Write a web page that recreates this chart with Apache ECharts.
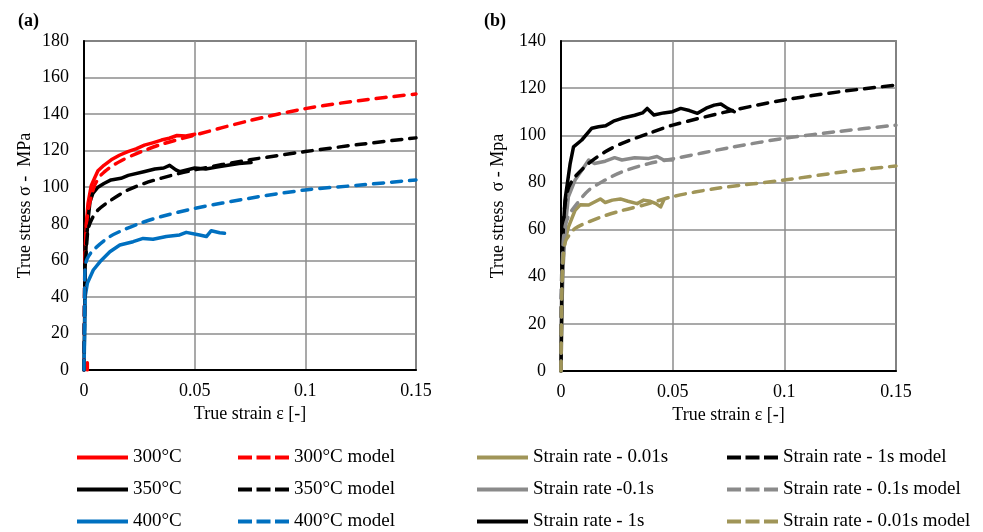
<!DOCTYPE html>
<html>
<head>
<meta charset="utf-8">
<script src="https://cdn.jsdelivr.net/npm/echarts@6/dist/echarts.min.js"></script>
<style>
  html, body { margin: 0; padding: 0; background: #ffffff; }
  #chart { width: 983px; height: 532px; }
</style>
</head>
<body>
<div id="chart"></div>
<script>
// ---- Panel (a): temperature series, [true strain, true stress MPa] ----
const a300Exp = [[0.0015,0],[0.0015,4],'-',[0.0006,62],[0.0008,72],[0.0012,82],[0.0018,91],[0.0033,101],[0.0048,105],[0.0063,109],[0.009,112],[0.0123,115],[0.016,117.5],[0.0198,119.5],[0.0235,121],[0.0273,123],[0.031,124.3],[0.035,125.8],[0.0385,126.8],[0.042,128.3],[0.046,128],[0.05,129]];
const a350Exp = [[0,0],[0.0003,30],[0.0005,56],[0.001,70],[0.002,84],[0.0027,92],[0.004,96.6],[0.0063,100],[0.009,102],[0.0122,104],[0.0167,104.9],[0.02,106.5],[0.027,108.5],[0.032,110],[0.036,110.5],[0.0387,112],[0.0415,109.5],[0.0432,108.5],[0.05,110.5],[0.055,110],[0.06,111],[0.065,112],[0.07,113],[0.0755,113.5]];
const a400Exp = [[0,0],[0.0003,20],[0.0005,40],[0.0015,47.4],[0.0042,54.7],[0.0072,59.2],[0.0117,64.7],[0.0162,68.4],[0.0222,70.2],[0.0267,72],[0.0312,71.5],[0.0372,73],[0.0432,73.9],[0.0462,75.3],[0.0522,73.9],[0.0553,73],[0.0575,76.2],[0.0613,75.1],[0.0635,74.8]];
const a300Model = [[0,0],[0.0003,50],[0.001,78],[0.002,88],[0.0033,95],[0.0048,101],[0.0072,106],[0.0093,108.5],[0.0125,111.5],[0.0168,114.5],[0.022,117.5],[0.027,120],[0.035,123.5],[0.05,128.5],[0.075,136.5],[0.1,143],[0.125,147.5],[0.15,151]];
const a350Model = [[0,0],[0.0002,30],[0.0005,55],[0.001,65],[0.0018,76.6],[0.0033,82],[0.0063,87.5],[0.0123,93],[0.0198,98.5],[0.027,102],[0.035,105],[0.05,109.5],[0.075,115],[0.1,119.5],[0.125,123.5],[0.15,127]];
const a400Model = [[0,0],[0.0002,30],[0.0005,56],[0.0015,61],[0.0042,65.6],[0.0117,73],[0.0185,77],[0.0252,80.2],[0.035,84],[0.05,88.4],[0.075,94],[0.1,98.5],[0.125,101.2],[0.15,104]];

// ---- Panel (b): strain-rate series ----
const b001Exp = [[0,0],[0.0003,20],[0.0005,35],[0.0007,44],[0.001,51],[0.002,56],[0.0033,61],[0.0063,68.2],[0.0086,70.5],[0.0124,70.4],[0.0176,73],[0.0198,71.5],[0.023,72.5],[0.0266,73],[0.03,72],[0.0341,71],[0.037,72.5],[0.04,72],[0.0425,71],[0.0446,69.6],[0.046,72.5]];
const b01Exp = [[0,0],[0.0005,30],[0.001,45],[0.002,62],[0.0033,73.9],[0.0063,81],[0.0093,85.2],[0.0124,89.5],[0.015,88],[0.0198,89],[0.024,90.5],[0.0273,89.5],[0.033,90.5],[0.0393,90.2],[0.043,91],[0.046,89.5],[0.05,89.5]];
const b1Exp = [[0,0],[0.0003,32],[0.0005,40],[0.001,60],[0.0018,72.5],[0.0041,88],[0.0056,95.1],[0.0093,98],[0.0138,103],[0.0168,103.6],[0.02,104],[0.0235,106],[0.0273,107.2],[0.033,108.5],[0.0365,109.5],[0.0386,111.4],[0.0416,108.6],[0.046,109.5],[0.0499,110],[0.0536,111.4],[0.0575,110.5],[0.0611,109.3],[0.065,111.5],[0.0686,112.8],[0.0716,113.3],[0.0746,111.4],[0.0776,110]];
const b1Model = [[0,0],[0.0003,40],[0.001,62],[0.002,72],[0.0035,78],[0.0063,82.4],[0.0123,88],[0.0198,93],[0.0273,96.6],[0.0393,100.8],[0.05,104.3],[0.0775,110.7],[0.1,115],[0.125,118.5],[0.15,121.3]];
const b01Model = [[0,0],[0.0003,35],[0.001,55],[0.002,62],[0.0035,66],[0.0063,70],[0.0124,76.7],[0.0198,81],[0.0273,84.5],[0.0393,88],[0.05,90],[0.0775,95.1],[0.1,98.7],[0.125,101.7],[0.15,104.3]];
const b001Model = [[0,0],[0.0003,30],[0.001,48],[0.002,55],[0.004,58],[0.0063,60.5],[0.0124,63.3],[0.02,66],[0.027,68],[0.0386,70.8],[0.05,74],[0.07,77.5],[0.1,81],[0.125,84.3],[0.15,87]];

// ---- Axis ticks ----
const strainTicks = { min: 0, max: 0.15, interval: 0.05 };
const stressTicksA = { min: 0, max: 180, interval: 20 };
const stressTicksB = { min: 0, max: 140, interval: 20 };

const RED = '#ff0000', BLACK = '#000000', BLUE = '#0070c0', GRAY = '#8a8a8a', OLIVE = '#a09558';
const FONT = '"Liberation Serif", "Times New Roman", serif';
const LW = 3.5;

// legend swatches: a solid bar, or three dashes
const SOLID_ICON = 'path://M0,0h51v4h-51z';
const DASH_ICON = 'path://M0,0h14v4h-14zM18.5,0h14v4h-14zM37,0h14v4h-14z';

function curve(name, data, color, dashed, gridIdx, smooth) {
  return {
    name: name,
    type: 'line',
    xAxisIndex: gridIdx,
    yAxisIndex: gridIdx,
    data: data,
    showSymbol: false,
    symbol: 'none',
    connectNulls: false,
    smooth: smooth ? 0.3 : false,
    animation: false,
    lineStyle: {
      color: color,
      width: LW,
      type: dashed ? [10, 8] : 'solid',
      cap: 'round',
      join: 'round'
    },
    itemStyle: { color: color },
    emphasis: { disabled: true }
  };
}

function xAxis(gridIdx) {
  return {
    type: 'value', gridIndex: gridIdx,
    min: strainTicks.min, max: strainTicks.max, interval: strainTicks.interval,
    name: 'True strain ε [-]', nameLocation: 'middle', nameGap: 34,
    nameTextStyle: { fontFamily: FONT, fontSize: 18, color: '#000' },
    axisLine: { show: true, onZero: false, lineStyle: { color: '#000', width: 2 } },
    axisTick: { show: false },
    axisLabel: { fontFamily: FONT, fontSize: 18, color: '#000', margin: 12 },
    splitLine: { show: true, lineStyle: { color: '#8c8c8c', width: 1.5 } }
  };
}

function yAxis(gridIdx, ticks, title, gap) {
  return {
    type: 'value', gridIndex: gridIdx,
    min: ticks.min, max: ticks.max, interval: ticks.interval,
    name: title, nameLocation: 'middle', nameGap: gap, nameRotate: 90,
    nameTextStyle: { fontFamily: FONT, fontSize: 18, color: '#000' },
    axisLine: { show: true, onZero: false, lineStyle: { color: '#000', width: 2 } },
    axisTick: { show: false },
    axisLabel: { fontFamily: FONT, fontSize: 18, color: '#000', margin: 15 },
    splitLine: { show: true, lineStyle: { color: '#8c8c8c', width: 1.5 } }
  };
}

function legendCol(names, colors, dashed, left) {
  return {
    data: names.map(function (n, i) {
      return { name: n, icon: dashed ? DASH_ICON : SOLID_ICON, itemStyle: { color: colors[i] } };
    }),
    orient: 'vertical',
    left: left,
    top: 448,
    height: 120,
    padding: 0,
    itemWidth: 51,
    itemHeight: 4,
    itemGap: 13,
    selectedMode: false,
    textStyle: { fontFamily: FONT, fontSize: 19, color: '#000', lineHeight: 19 }
  };
}

const chart = echarts.init(document.getElementById('chart'), null, { renderer: 'canvas' });
chart.setOption({
  backgroundColor: '#ffffff',
  animation: false,
  title: [
    { text: '(a)', left: 13, top: 7, textStyle: { fontFamily: FONT, fontSize: 18, fontWeight: 'bold', color: '#000' } },
    { text: '(b)', left: 479, top: 7, textStyle: { fontFamily: FONT, fontSize: 18, fontWeight: 'bold', color: '#000' } }
  ],
  grid: [
    { left: 84, top: 41, width: 332, height: 329, show: true, borderColor: '#333', borderWidth: 1.5, backgroundColor: 'transparent' },
    { left: 561, top: 41, width: 335, height: 330, show: true, borderColor: '#333', borderWidth: 1.5, backgroundColor: 'transparent' }
  ],
  xAxis: [xAxis(0), xAxis(1)],
  yAxis: [
    yAxis(0, stressTicksA, 'True stress σ -  MPa', 50),
    yAxis(1, stressTicksB, 'True stress  σ - Mpa', 54)
  ],
  legend: [
    legendCol(['300°C', '350°C', '400°C'], [RED, BLACK, BLUE], false, 77),
    legendCol(['300°C model', '350°C model', '400°C model'], [RED, BLACK, BLUE], true, 238),
    legendCol(['Strain rate - 0.01s', 'Strain rate -0.1s', 'Strain rate - 1s'], [OLIVE, GRAY, BLACK], false, 477),
    legendCol(['Strain rate - 1s model', 'Strain rate - 0.1s model', 'Strain rate - 0.01s model'], [BLACK, GRAY, OLIVE], true, 727)
  ],
  series: [
    curve('300°C', a300Exp, RED, false, 0, false),
    curve('350°C', a350Exp, BLACK, false, 0, false),
    curve('400°C', a400Exp, BLUE, false, 0, false),
    curve('300°C model', a300Model, RED, true, 0, true),
    curve('350°C model', a350Model, BLACK, true, 0, true),
    curve('400°C model', a400Model, BLUE, true, 0, true),
    curve('Strain rate - 0.01s', b001Exp, OLIVE, false, 1, false),
    curve('Strain rate -0.1s', b01Exp, GRAY, false, 1, false),
    curve('Strain rate - 1s', b1Exp, BLACK, false, 1, false),
    curve('Strain rate - 1s model', b1Model, BLACK, true, 1, true),
    curve('Strain rate - 0.1s model', b01Model, GRAY, true, 1, true),
    curve('Strain rate - 0.01s model', b001Model, OLIVE, true, 1, true)
  ]
});
</script>
</body>
</html>
